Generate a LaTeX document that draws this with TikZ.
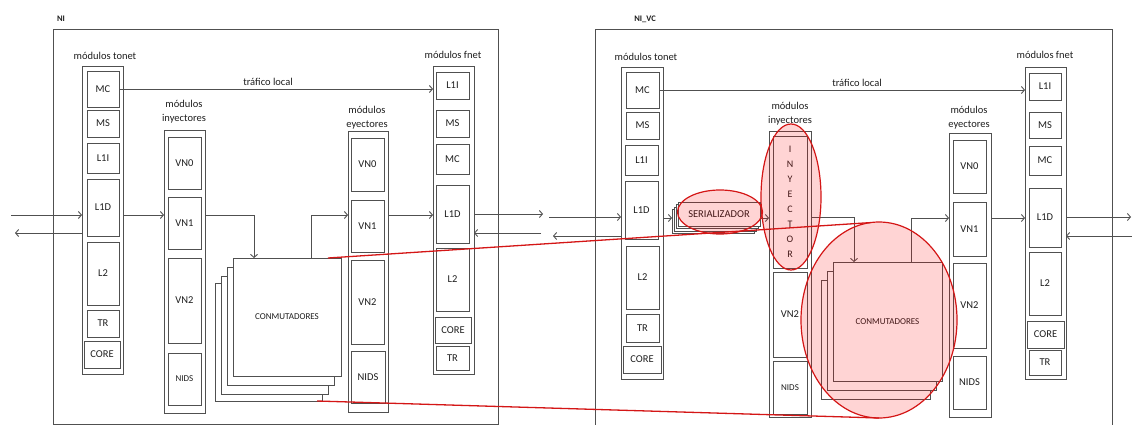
\documentclass[tikz,border=0pt]{standalone}
\usepackage{fontspec}
\setmainfont{Carlito}
\usetikzlibrary{arrows.meta,shapes.geometric,calc}
\definecolor{linec}{RGB}{80,80,80}
\definecolor{redc}{RGB}{212,22,22}
\definecolor{txtc}{RGB}{30,30,30}
\tikzset{
 cell/.style={draw=linec, line width=0.95pt, inner sep=0pt, outer sep=0pt, text=txtc, font=\fontsize{10.5}{12}\selectfont},
 layer/.style={fill=white},
 small/.style={font=\fontsize{9}{11}\selectfont},
 conn/.style={draw=linec, line width=0.9pt, -{Straight Barb[length=3pt,width=7pt]}},
 lbl/.style={text=txtc, font=\fontsize{10.5}{14}\selectfont, align=center, inner sep=0pt},
 hl/.style={ellipse, draw=redc, line width=1.2pt, fill=red, fill opacity=0.17, inner sep=0pt, outer sep=0pt},
 redline/.style={draw=redc, line width=1.3pt},
 ttl/.style={font=\bfseries\fontsize{8.5}{10}\selectfont, text=txtc, inner sep=0pt},
}
\newcommand\bx[7][]{\node[cell,#1, minimum width={(#5-#3)*1pt}, minimum height={(#6-#4)*1pt}] (#2) at ({(#3+#5)/2},{(#4+#6)/2}) {#7};}
\begin{document}
\begin{tikzpicture}[x=1pt,y=-1pt]
\useasboundingbox (0,0) rectangle (1132,425);
% ================= LEFT PANEL (NI) =================
\node[ttl] (Lttl) at (61,19) {NI};
\bx{Lni}{53}{29}{498}{424}{}
% tonet
\node[lbl] (Lltonet) at (105,56) {módulos tonet};
\bx{Ltcol}{82}{66}{123}{374}{}
\bx{LtMC}{87}{71}{119}{107}{MC}
\bx{LtMS}{87}{110}{119}{137}{MS}
\bx{LtLI}{87}{143}{119}{173}{L1I}
\bx{LtLD}{87}{179}{119}{236}{L1D}
\bx{LtL2}{87}{242}{119}{305}{L2}
\bx{LtTR}{87}{310}{119}{337}{TR}
\bx{LtCO}{84}{341}{120}{368}{CORE}
% inyectores
\node[lbl] (Llinj) at (184,112) {módulos\\inyectores};
\bx{Licol}{164}{130}{205}{413}{}
\bx{LiV0}{168}{137}{201}{189}{VN0}
\bx{LiV1}{168}{197}{201}{249}{VN1}
\bx{LiV2}{168}{258}{201}{343}{VN2}
\bx[small]{LiND}{168}{353}{201}{405}{NIDS}
% eyectores
\node[lbl] (Lleye) at (367,118) {módulos\\eyectores};
\bx{Lecol}{348}{131}{388}{412}{}
\bx{LeV0}{351}{138}{384}{191}{VN0}
\bx{LeV1}{351}{200}{384}{252}{VN1}
\bx{LeV2}{351}{260}{384}{344}{VN2}
\bx{LeND}{351}{351}{385}{403}{NIDS}
% fnet
\node[lbl] (Llfnet) at (453,55) {módulos fnet};
\bx{Lfcol}{433}{66}{474}{374}{}
\bx{LfLI}{436}{72}{469}{99}{L1I}
\bx{LfMS}{436}{110}{469}{137}{MS}
\bx{LfMC}{436}{144}{469}{174}{MC}
\bx{LfLD}{436}{185}{469}{243}{L1D}
\bx{LfL2}{436}{248}{469}{311}{L2}
\bx{LfCO}{435}{317}{471}{343}{CORE}
\bx{LfTR}{436}{346}{469}{370}{TR}
% conmutadores
\bx[layer]{Lsw4}{215}{283}{322}{401}{}
\bx[layer]{Lsw3}{221}{276}{328}{394}{}
\bx[layer]{Lsw2}{227}{267}{334}{385}{}
\bx[layer,small]{Lsw1}{233}{258}{341}{376}{CONMUTADORES}
% connectors
\coordinate (Lin) at (11,215);
\coordinate (Lout) at (15,233);
\draw[conn] (Lin) -- (Lin -| Ltcol.west);
\draw[conn] (Lout -| Ltcol.west) -- (Lout);
\draw[conn] (LtMC.east) -- (LtMC.east -| Lfcol.west);
\node[lbl] (Ltraf) at (268,82) {tráfico local};
\draw[conn] (Lin -| Ltcol.east) -- (Lin -| Licol.west);
\coordinate (Lj1) at (254,215);
\draw[conn] (Lin -| Licol.east) -- (Lj1) -- (Lj1 |- Lsw1.north);
\coordinate (Lj2) at (311,215);
\draw[conn] (Lj2 |- Lsw1.north) -- (Lj2) -- (Lj2 -| Lecol.west);
\draw[conn] (Lin -| Lecol.east) -- (Lin -| Lfcol.west);
\coordinate (Lo1) at (543,214);
\draw[conn] (Lo1 -| Lfcol.east) -- (Lo1);
\coordinate (Li1) at (541,233);
\draw[conn] (Li1) -- (Li1 -| Lfcol.east);
% ================= RIGHT PANEL (NI_VC) =================
\node[ttl] (Rttl) at (645,19) {NI\_VC};
\bx{Rni}{595}{29}{1112}{440}{}
% tonet
\node[lbl] (Rltonet) at (646,57) {módulos tonet};
\bx{Rtcol}{621}{67}{663}{379}{}
\bx{RtMC}{626}{72}{659}{108}{MC}
\bx{RtMS}{626}{112}{659}{139}{MS}
\bx{RtLI}{625}{145}{658}{175}{L1I}
\bx{RtLD}{625}{181}{658}{239}{L1D}
\bx{RtL2}{626}{246}{659}{309}{L2}
\bx{RtTR}{626}{314}{659}{342}{TR}
\bx{RtCO}{623}{346}{661}{373}{CORE}
% serializador
\bx[layer]{Rser3}{672}{209.5}{754}{233.5}{}
\bx[layer]{Rser2}{674}{207}{756}{231}{}
\bx[layer]{Rser1}{676}{204.5}{758}{228.5}{}
\bx[layer]{Rser}{678}{202}{760}{226}{SERIALIZADOR}
% inyectores
\node[lbl] (Rlinj) at (790,113.5) {módulos\\inyectores};
\bx{Ricol}{769}{131}{811}{417}{}
\bx[align=center,font=\fontsize{10}{15}\selectfont]{RiIN}{773}{136}{807}{268}{I\\N\\Y\\E\\C\\T\\O\\R}
\bx{RiV2}{773}{272}{807}{357}{VN2}
\bx[small]{RiND}{773}{361}{807}{414}{NIDS}
% eyectores
\node[lbl] (Rleye) at (969,118) {módulos\\eyectores};
\bx{Recol}{949}{133}{991}{417}{}
\bx{ReV0}{953}{140}{986}{193}{VN0}
\bx{ReV1}{953}{202}{986}{256}{VN1}
\bx{ReV2}{953}{263}{986}{348}{VN2}
\bx{ReND}{953}{356}{986}{409}{NIDS}
% fnet
\node[lbl] (Rlfnet) at (1045,55) {módulos fnet};
\bx{Rfcol}{1025}{67}{1066}{379}{}
\bx{RfLI}{1029}{73}{1061}{100}{L1I}
\bx{RfMS}{1029}{112}{1061}{138}{MS}
\bx{RfMC}{1029}{146}{1061}{175}{MC}
\bx{RfLD}{1029}{188}{1061}{247}{L1D}
\bx{RfL2}{1029}{252}{1061}{315}{L2}
\bx{RfCO}{1027}{321}{1064}{348}{CORE}
\bx{RfTR}{1029}{350}{1061}{375}{TR}
% conmutadores
\bx[layer]{Rsw3}{821}{280}{930}{399}{}
\bx[layer]{Rsw2}{827}{271}{936}{390}{}
\bx[layer,small]{Rsw1}{833}{262}{942}{381}{CONMUTADORES}
% connectors
\coordinate (Rin) at (549,217);
\coordinate (Rout) at (553,236);
\draw[conn] (Rin) -- (Rin -| Rtcol.west);
\draw[conn] (Rout -| Rtcol.west) -- (Rout);
\draw[conn] (RtMC.east) -- (RtMC.east -| Rfcol.west);
\node[lbl] (Rtraf) at (857,83) {tráfico local};
\coordinate (Rm) at (700,218);
\draw[conn] (Rm -| Rtcol.east) -- (Rm -| Rser3.west);
\draw[conn] (Rm -| Rser.east) -- (Rm -| Ricol.west);
\coordinate (Rj1) at (854,217);
\draw[conn] (Rj1 -| Ricol.east) -- (Rj1) -- (Rj1 |- Rsw1.north);
\coordinate (Rj2) at (911,218);
\draw[conn] (Rj2 |- Rsw1.north) -- (Rj2) -- (Rj2 -| Recol.west);
\draw[conn] (Rj2 -| Recol.east) -- (Rj2 -| Rfcol.west);
\coordinate (Ro1) at (1131,217);
\draw[conn] (Ro1 -| Rfcol.east) -- (Ro1);
\coordinate (Ri1) at (1134,236);
\draw[conn] (Ri1) -- (Ri1 -| Rfcol.east);
% ================= HIGHLIGHTS =================
\node[hl, minimum width=85pt, minimum height=44pt] (Rse) at (720,212) {};
\node[hl, minimum width=60pt, minimum height=146pt] (Rie) at (791,197) {};
\node[hl, minimum width=156pt, minimum height=196pt] (Rce) at (879,320) {};
\coordinate (Lr1) at (328,258);
\coordinate (Lr2) at (317,401);
\draw[redline] (Lr1) -- (Rce.95);
\draw[redline] (Lr2) -- (Rce.south);
\end{tikzpicture}
\end{document}
